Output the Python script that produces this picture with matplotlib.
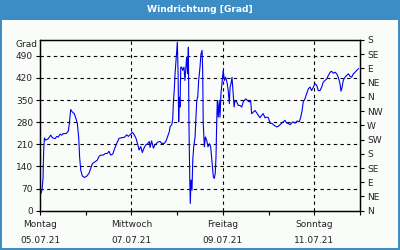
import matplotlib
matplotlib.use("Agg")
import matplotlib.pyplot as plt
from matplotlib.patches import Rectangle

# hours since Monday 05.07.21 00:00
hours = [0.5, 1.05, 1.6, 1.9, 2.3, 3.0, 4.4, 5.6, 6.7, 7.9, 8.8, 9.6, 10.5, 11.4, 12.2, 13.7, 14.9,
         15.4, 16.1, 17.0, 18.0, 18.9, 19.6, 20.3, 20.8, 21.4, 22.2, 23.3, 24.5, 25.7, 26.6, 27.5,
         28.9, 30.1, 31.0, 32.0, 33.2, 34.3, 35.3, 36.2, 37.1, 38.2, 39.2,
         40.3, 41.5, 42.9, 44.3, 45.5, 46.4, 47.6, 48.5, 49.5, 50.4, 51.3, 52.0, 52.9, 53.7, 54.6,
         55.5, 56.5, 57.4, 57.8, 58.6, 59.5, 60.4, 61.8, 63.0, 63.9, 65.3, 66.2, 67.0, 67.9, 68.3,
         69.2, 69.7, 70.0, 70.5, 70.9, 71.4, 71.8, 72.1, 72.5, 72.8, 73.2, 73.5, 73.9, 74.4, 74.9,
         75.6, 76.1, 76.5, 77.0, 77.5, 77.9, 78.2, 78.6, 78.9, 79.3, 79.8, 80.2, 80.7, 81.4, 81.9,
         82.3, 82.8, 83.3, 84.0, 84.5, 85.1, 85.4, 85.7, 86.3, 86.8, 87.5, 88.2, 88.9, 89.6, 90.1,
         90.7, 91.0, 91.5, 92.0, 92.4, 92.8, 93.1, 93.6, 94.1, 94.5, 95.0, 95.7, 96.2, 96.8, 97.5,
         98.3, 98.8, 99.4, 99.8, 100.3, 100.8, 101.3, 101.9, 102.4, 103.3, 104.1, 105.0, 105.9,
         106.7, 108.0, 108.8, 109.9, 110.6, 111.1, 112.0, 112.9, 113.8, 114.6, 115.5, 116.4, 117.2,
         118.1, 119.0, 119.9, 120.8, 121.6, 122.5, 123.4, 124.3, 125.1, 126.0, 126.9, 127.7, 128.6,
         129.5, 130.4, 131.3, 132.7, 133.9, 135.1, 136.1, 136.9, 137.6, 138.2, 139.1, 140.0, 140.9,
         141.8, 142.6, 143.5, 144.4, 145.3, 146.1, 147.0, 147.9, 148.7, 149.6, 150.5, 151.4, 152.3,
         153.1, 154.0, 154.9, 155.8, 156.6, 157.5, 158.0, 158.6, 159.2, 160.1, 161.0, 161.9, 162.8,
         163.6, 164.5, 165.4, 166.3, 167.1]

degrees = [55, 65, 103, 186, 230, 223, 228, 239, 230, 228, 235, 233, 242, 239, 244, 244, 252,
           276, 320, 312, 307, 291, 276, 233, 170, 128, 110, 105, 109, 118, 134, 149,
           155, 160, 172, 176, 176, 181, 181, 188, 176, 179, 197,
           213, 229, 231, 232, 240, 235, 242, 248, 240, 229, 210, 192, 203, 184, 198,
           208, 212, 219, 200, 221, 198, 208, 217, 219, 213, 213, 221, 235, 250, 266,
           272, 292, 340, 383, 433, 475, 507, 533, 433, 281, 359, 328, 454, 454, 444,
           454, 412, 444, 486, 433, 517, 276, 107, 23, 97, 65, 160, 202, 233, 296,
           349, 359, 412, 454, 496, 507, 444, 276, 202, 233, 223, 202, 212, 202, 170,
           128, 107, 102, 118, 170, 286, 349, 296, 349, 296, 370, 412, 444, 412, 422,
           402, 380, 339, 391, 402, 422, 380, 328, 349, 344, 333, 333, 328,
           344, 354, 349, 344, 349, 307, 312, 317, 309, 302, 294, 302, 307,
           294, 296, 294, 276, 277, 272, 268, 265, 267, 272, 277, 281, 286,
           277, 276, 272, 281, 277, 284, 281, 296, 317, 344, 354, 370, 386,
           391, 380, 391, 402, 396, 380, 380, 391, 407, 412, 417, 428, 438,
           441, 435, 438, 433, 422, 402, 378, 391, 412, 422, 428, 433, 425,
           422, 433, 438, 444, 449]

title = "Windrichtung [Grad]"
y_label = "Grad"
left_ticks = [0, 70, 140, 210, 280, 350, 420, 490]
right_ticks = [0, 45, 90, 135, 180, 225, 270, 315, 360, 405, 450, 495, 540]
right_labels = ["N", "NE", "E", "SE", "S", "SW", "W", "NW", "N", "NE", "E", "SE", "S"]
x_major = [0, 48, 96, 144]
x_labels = ["Montag\n05.07.21", "Mittwoch\n07.07.21", "Freitag\n09.07.21", "Sonntag\n11.07.21"]
x_minor = [24, 72, 120, 168]

plt.rcParams['font.family'] = ['DejaVu Sans']
fig = plt.figure(figsize=(4, 2.5), dpi=100)
fig.patch.set_facecolor('#3c8dc5')
# inner background
fig.patches.append(Rectangle((2/400, 2/250), 396/400, (250-22)/250, transform=fig.transFigure,
                             facecolor='#fafcfa', edgecolor='none', zorder=-10))
fig.text(0.5, 1 - 9/250, title, ha='center', va='center', color='white',
         fontsize=6.6, fontweight='bold')

ax = fig.add_axes([40/400, 1 - 210.7/250, 320/400, 170.7/250])
ax.set_facecolor('none')
ax.plot(hours, degrees, color='#0000ee', lw=0.8, zorder=3)
ax.set_xlim(0, 168)
ax.set_ylim(0, 540)
ax.set_yticks(left_ticks)
ax.set_xticks(x_major)
ax.set_xticklabels(x_labels, linespacing=1.9)
ax.set_xticks(x_minor, minor=True)
for v in left_ticks[1:]:
    ax.axhline(v, color='black', lw=0.8, dashes=(3, 3), zorder=2)
for v in x_major[1:]:
    ax.axvline(v, color='black', lw=0.8, dashes=(3, 3), zorder=2)
ax.tick_params(axis='both', which='both', direction='out', length=3, width=0.8,
               labelsize=6.5, colors='black', labelcolor='#222222', pad=2)
ax.tick_params(axis='x', pad=4)
for s in ax.spines.values():
    s.set_linewidth(0.9)

ax2 = ax.twinx()
ax2.set_ylim(0, 540)
ax2.set_yticks(right_ticks)
ax2.set_yticklabels(right_labels)
ax2.tick_params(axis='y', direction='out', length=3, width=0.8, labelsize=6.5,
                labelcolor='#222222', pad=2)
for s in ax2.spines.values():
    s.set_linewidth(0.9)

fig.text(27/400, 1 - 44.5/250, y_label, ha='center', va='center', fontsize=6.5, color='#222222')

fig.savefig('out.png', dpi=100, facecolor=fig.get_facecolor())
